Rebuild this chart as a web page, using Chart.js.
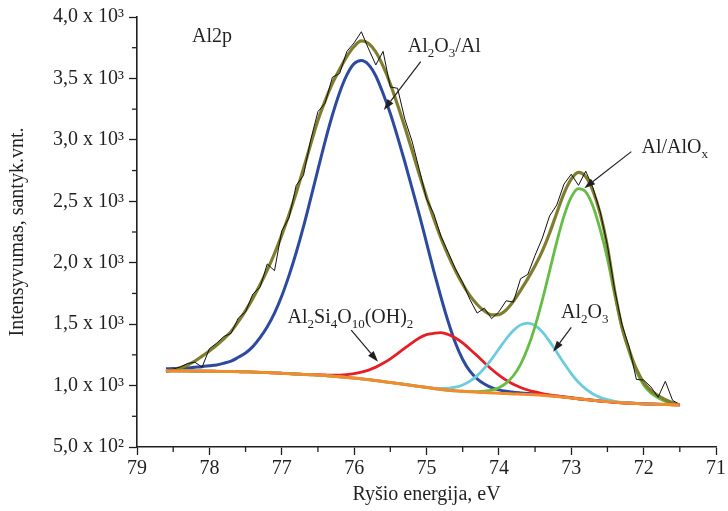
<!DOCTYPE html>
<html>
<head>
<meta charset="utf-8">
<script src="https://cdn.jsdelivr.net/npm/chart.js@4.4.1/dist/chart.umd.min.js"></script>
<style>
html,body{margin:0;padding:0;background:#ffffff;}
#wrap{width:728px;height:511px;position:relative;}
</style>
</head>
<body>
<div id="wrap"><canvas id="c" width="728" height="511"></canvas></div>
<script>
// ---- data (binding energy, eV) ----
const energy = [78.6,78.5,78.4,78.3,78.2,78.1,78.0,77.9,77.8,77.7,
  77.6,77.5,77.4,77.3,77.2,77.1,77.0,76.9,76.8,76.7,
  76.6,76.5,76.4,76.3,76.2,76.1,76.0,75.9,75.8,75.7,
  75.6,75.5,75.4,75.3,75.2,75.1,75.0,74.9,74.8,74.7,
  74.6,74.5,74.4,74.3,74.2,74.1,74.0,73.9,73.8,73.7,
  73.6,73.5,73.4,73.3,73.2,73.1,73.0,72.9,72.8,72.7,
  72.6,72.5,72.4,72.3,72.2,72.1,72.0,71.9,71.8,71.7,
  71.6,71.5];

const rawCounts = [1120,1135,1152,1180,1190,1150,1300,1345,1400,1425,
  1550,1600,1745,1800,1990,1935,2260,2365,2630,2710,
  3000,3230,3300,3510,3540,3720,3790,3880,3740,3610,
  3720,3430,3420,3170,2990,2760,2520,2400,2215,2085,
  1950,1840,1700,1590,1630,1545,1600,1690,1680,1870,
  1905,2060,2200,2380,2470,2640,2720,2630,2745,2610,
  2415,2140,1780,1500,1315,1050,1045,990,905,1035,
  880,845];

const envelopeFit = [1115,1128,1145,1168,1200,1240,1282,1328,1380,1440,
  1520,1610,1710,1820,1940,2075,2225,2390,2570,2765,
  2965,3160,3320,3460,3575,3680,3760,3805,3785,3715,
  3600,3455,3285,3105,2915,2720,2535,2360,2200,2060,
  1935,1825,1732,1660,1607,1576,1578,1615,1685,1775,
  1870,1975,2095,2240,2405,2565,2680,2735,2700,2585,
  2400,2130,1770,1480,1290,1135,1025,960,918,885,
  860,843];

const peakAl2O3Al = [1136,1138,1140,1144,1149,1154,1161,1168,1182,1199,
  1230,1265,1317,1390,1479,1590,1729,1895,2083,2293,
  2523,2758,2990,3202,3386,3529,3620,3645,3612,3520,
  3377,3214,3024,2822,2607,2392,2163,1934,1719,1519,
  1346,1212,1117,1055,1013,984,965,953,945,940,
  936,931,926,920,914,907,901,893,887,881,
  875,870,865,861,858,855,852,850,848,846,
  845,844];

const peakAl2Si4O10OH2 = [1120,1120,1119,1119,1118,1118,1117,1116,1115,1114,
  1113,1112,1110,1108,1106,1103,1100,1097,1094,1091,
  1089,1088,1086,1084,1085,1089,1097,1109,1126,1150,
  1181,1218,1260,1305,1348,1387,1415,1425,1431,1416,
  1387,1347,1296,1242,1186,1133,1085,1044,1010,984,
  964,948,935,924,916,908,900,892,886,880,
  874,869,864,860,857,854,851,849,847,845,
  844,843];

const peakAl2O3 = [1120,1120,1119,1119,1118,1118,1117,1116,1115,1114,
  1113,1112,1110,1108,1106,1103,1100,1097,1094,1091,
  1088,1085,1081,1076,1071,1066,1061,1055,1048,1041,
  1033,1025,1017,1009,1001,993,987,980,976,978,
  987,1005,1036,1081,1142,1216,1298,1379,1448,1494,
  1509,1489,1437,1360,1272,1181,1098,1027,973,932,
  904,885,872,864,859,855,851,849,847,845,
  844,843];

const peakAlAlOx = [1120,1120,1119,1119,1118,1118,1117,1116,1115,1114,
  1113,1112,1110,1108,1106,1103,1100,1097,1094,1091,
  1088,1085,1081,1076,1071,1066,1061,1055,1048,1041,
  1033,1025,1017,1009,1001,993,985,976,968,962,
  957,954,951,951,954,963,983,1020,1080,1173,
  1307,1482,1695,1932,2170,2381,2534,2603,2577,2460,
  2269,2032,1740,1470,1275,1115,1005,940,900,870,
  852,844];

const background = [1120,1120,1119,1119,1118,1118,1117,1116,1115,1114,
  1113,1112,1110,1108,1106,1103,1100,1097,1094,1091,
  1088,1085,1081,1076,1071,1066,1061,1055,1048,1041,
  1033,1025,1017,1009,1001,993,985,976,968,962,
  957,953,949,946,943,940,937,935,932,930,
  928,925,921,916,911,905,899,892,886,880,
  874,869,864,860,857,854,851,849,847,845,
  844,843];

const xTicks = [79,78,77,76,75,74,73,72,71];
const xMinorTicks = [78.5,77.5,76.5,75.5,74.5,73.5,72.5,71.5];
const yTicks = [500,1000,1500,2000,2500,3000,3500,4000];
const yTickLabels = ['5,0 x 10²','1,0 x 10³','1,5 x 10³','2,0 x 10³','2,5 x 10³','3,0 x 10³','3,5 x 10³','4,0 x 10³'];
const yMinorTicks = [750,1250,1750,2250,2750,3250,3750];

// annotation labels: [text, isSubscript]
const labels = [
  {e:78.24, v:3797, parts:[['Al2p',0]]},
  {e:75.26, v:3715, parts:[['Al',0],['2',1],['O',0],['3',1],['/Al',0]]},
  {e:72.03, v:2893, parts:[['Al/AlO',0],['x',1]]},
  {e:76.92, v:1509, parts:[['Al',0],['2',1],['Si',0],['4',1],['O',0],['10',1],['(OH)',0],['2',1]]},
  {e:73.14, v:1550, parts:[['Al',0],['2',1],['O',0],['3',1]]}
];
const arrows = [
  {e0:75.08, v0:3636, e1:75.59, v1:3243},
  {e0:72.17, v0:2904, e1:72.82, v1:2606},
  {e0:76.04, v0:1452, e1:75.67, v1:1194},
  {e0:73.00, v0:1474, e1:73.25, v1:1276}
];

const FONT = '"Liberation Serif", "Times New Roman", serif';
const INK = '#231f20';

function pts(arr){ return energy.map((e,i)=>({x:e, y:arr[i]})); }

const extras = {
  id:'extras',
  afterDraw(chart){
    const {ctx, scales:{x, y}} = chart;
    ctx.save();
    ctx.strokeStyle = INK; ctx.lineWidth = 1.3;
    xMinorTicks.forEach(v=>{
      const px = x.getPixelForValue(v);
      ctx.beginPath(); ctx.moveTo(px, y.bottom); ctx.lineTo(px, y.bottom+5); ctx.stroke();
    });
    yMinorTicks.forEach(v=>{
      const py = y.getPixelForValue(v);
      ctx.beginPath(); ctx.moveTo(x.left, py); ctx.lineTo(x.left-5, py); ctx.stroke();
    });
    // labels
    ctx.fillStyle = INK;
    ctx.textBaseline = 'alphabetic';
    ctx.textAlign = 'left';
    labels.forEach(l=>{
      let px = x.getPixelForValue(l.e);
      const py = y.getPixelForValue(l.v);
      l.parts.forEach(([t,sub])=>{
        ctx.font = (sub ? '13px ' : '20px ') + FONT;
        ctx.fillText(t, px, py + (sub ? 5 : 0));
        px += ctx.measureText(t).width;
      });
    });
    // arrows
    arrows.forEach(a=>{
      const x0 = x.getPixelForValue(a.e0), y0 = y.getPixelForValue(a.v0);
      const x1 = x.getPixelForValue(a.e1), y1 = y.getPixelForValue(a.v1);
      const ang = Math.atan2(y1-y0, x1-x0);
      const L = 11, W = 3.6;
      const bx = x1 - L*Math.cos(ang), by = y1 - L*Math.sin(ang);
      ctx.lineWidth = 1.2; ctx.strokeStyle = INK;
      ctx.beginPath(); ctx.moveTo(x0,y0); ctx.lineTo(bx,by); ctx.stroke();
      ctx.beginPath();
      ctx.moveTo(x1,y1);
      ctx.lineTo(bx + W*Math.sin(ang), by - W*Math.cos(ang));
      ctx.lineTo(bx - W*Math.sin(ang), by + W*Math.cos(ang));
      ctx.closePath(); ctx.fillStyle = INK; ctx.fill();
    });
    ctx.restore();
  }
};

const fitLine = (label, data, color, width, order) => ({
  label, data: pts(data), borderColor: color, borderWidth: width,
  pointRadius: 0, fill: false, cubicInterpolationMode: 'monotone', order
});

new Chart(document.getElementById('c'), {
  type: 'line',
  data: {
    datasets: [
      fitLine('Al2O3/Al', peakAl2O3Al, '#2e4a9e', 3, 6),
      fitLine('Al2Si4O10(OH)2', peakAl2Si4O10OH2, '#e61e26', 2.8, 5),
      fitLine('Al2O3', peakAl2O3, '#6ccbdd', 2.8, 4),
      fitLine('Al/AlOx', peakAlAlOx, '#66bd45', 2.8, 3),
      fitLine('Envelope', envelopeFit, '#7f7d2e', 3.2, 2),
      {label:'Raw', data: pts(rawCounts), borderColor:'#111111', borderWidth:1, pointRadius:0, tension:0, fill:false, order:1},
      fitLine('Background', background, '#f48a2c', 3, 0)
    ]
  },
  options: {
    responsive: false,
    animation: false,
    layout: { padding: { top: 17, right: 11, left: 0, bottom: 0 } },
    plugins: { legend: { display: false }, tooltip: { enabled: false } },
    scales: {
      x: {
        type: 'linear', min: 71, max: 79, reverse: true,
        afterFit: s => { s.height = 64; },
        afterBuildTicks: s => { s.ticks = xTicks.map(v=>({value:v})); },
        ticks: { color: INK, font: { family: FONT, size: 20 }, padding: 2, maxRotation: 0,
                 callback: v => String(v) },
        grid: { display: true, drawOnChartArea: false, drawTicks: true, tickLength: 8, tickColor: INK, tickWidth: 1.3 },
        border: { display: true, color: INK, width: 1.6 },
        title: { display: true, text: 'Ryšio energija, eV', color: INK, font: { family: FONT, size: 20 }, padding: { top: 0, bottom: 4 } }
      },
      y: {
        type: 'linear', min: 500, max: 4000,
        afterFit: s => { s.width = 137; },
        afterBuildTicks: s => { s.ticks = yTicks.map(v=>({value:v})); },
        ticks: { color: INK, font: { family: FONT, size: 20 }, padding: 5,
                 callback: v => yTickLabels[yTicks.indexOf(v)] },
        grid: { display: true, drawOnChartArea: false, drawTicks: true, tickLength: 8, tickColor: INK, tickWidth: 1.3 },
        border: { display: true, color: INK, width: 1.6 },
        title: { display: true, text: 'Intensyvumas, santyk.vnt.', color: INK, font: { family: FONT, size: 20 }, padding: { top: 6, bottom: 0 } }
      }
    }
  },
  plugins: [extras]
});
</script>
</body>
</html>
